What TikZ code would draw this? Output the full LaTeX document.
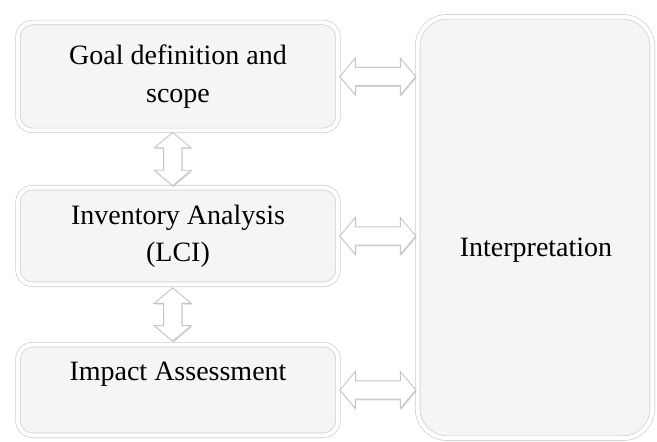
\documentclass[tikz,border=0pt]{standalone}
\usepackage{fontspec}
\setmainfont{Liberation Serif}
\usetikzlibrary{shapes.arrows,shadows}

\tikzset{
  stagebox/.style={draw=gray!40, line width=0.5pt, double=white, double distance=3pt,
    fill=gray!8, rounded corners=11pt, align=center, inner sep=0pt,
    minimum width=240pt, font=\fontsize{21}{28}\selectfont,
    drop shadow={opacity=0.3, shadow xshift=0.8pt, shadow yshift=-1.5pt}},
  mainbox/.style={stagebox, rounded corners=22pt, minimum width=176pt, minimum height=316pt},
  hollowarrow/.style={double arrow, draw=gray!45, line width=0.7pt, fill=white,
    inner sep=6.5pt, double arrow head extend=7pt, double arrow tip angle=100,
    drop shadow={opacity=0.3, shadow xshift=0.6pt, shadow yshift=-1pt}},
  harrow/.style={hollowarrow, minimum height=57pt},
  varrow/.style={hollowarrow, shape border rotate=90, minimum height=40pt, xshift=-4pt}
}

\begin{document}
\begin{tikzpicture}[x=0.75pt,y=-0.75pt]
\useasboundingbox (0,0) rectangle (657,442);
% the three stages
\node[stagebox, minimum height=81pt] (goal) at (178,76.5) {Goal definition and\\scope};
\node[stagebox, minimum height=72.5pt] (inventory) at (178,236) {Inventory Analysis\\(LCI)};
\node[stagebox, minimum height=68pt] (impact) at (178,390) {Impact Assessment\\\mbox{}};
% interpretation
\node[mainbox] (interp) at (535,227.5) {};
\node[font=\fontsize{21}{28}\selectfont] (interptext) at (536,250) {Interpretation};
% arrows between the stages
\path (goal.south) -- (inventory.north) node[midway, varrow] (a12) {};
\path (inventory.south) -- (impact.north) node[midway, varrow] (a23) {};
% arrows to interpretation
\path (goal.east) -- (goal.east -| interp.west) node[midway, harrow] (g2i) {};
\path (inventory.east) -- (inventory.east -| interp.west) node[midway, harrow] (v2i) {};
\path (impact.east) -- (impact.east -| interp.west) node[midway, harrow] (m2i) {};
\end{tikzpicture}
\end{document}
